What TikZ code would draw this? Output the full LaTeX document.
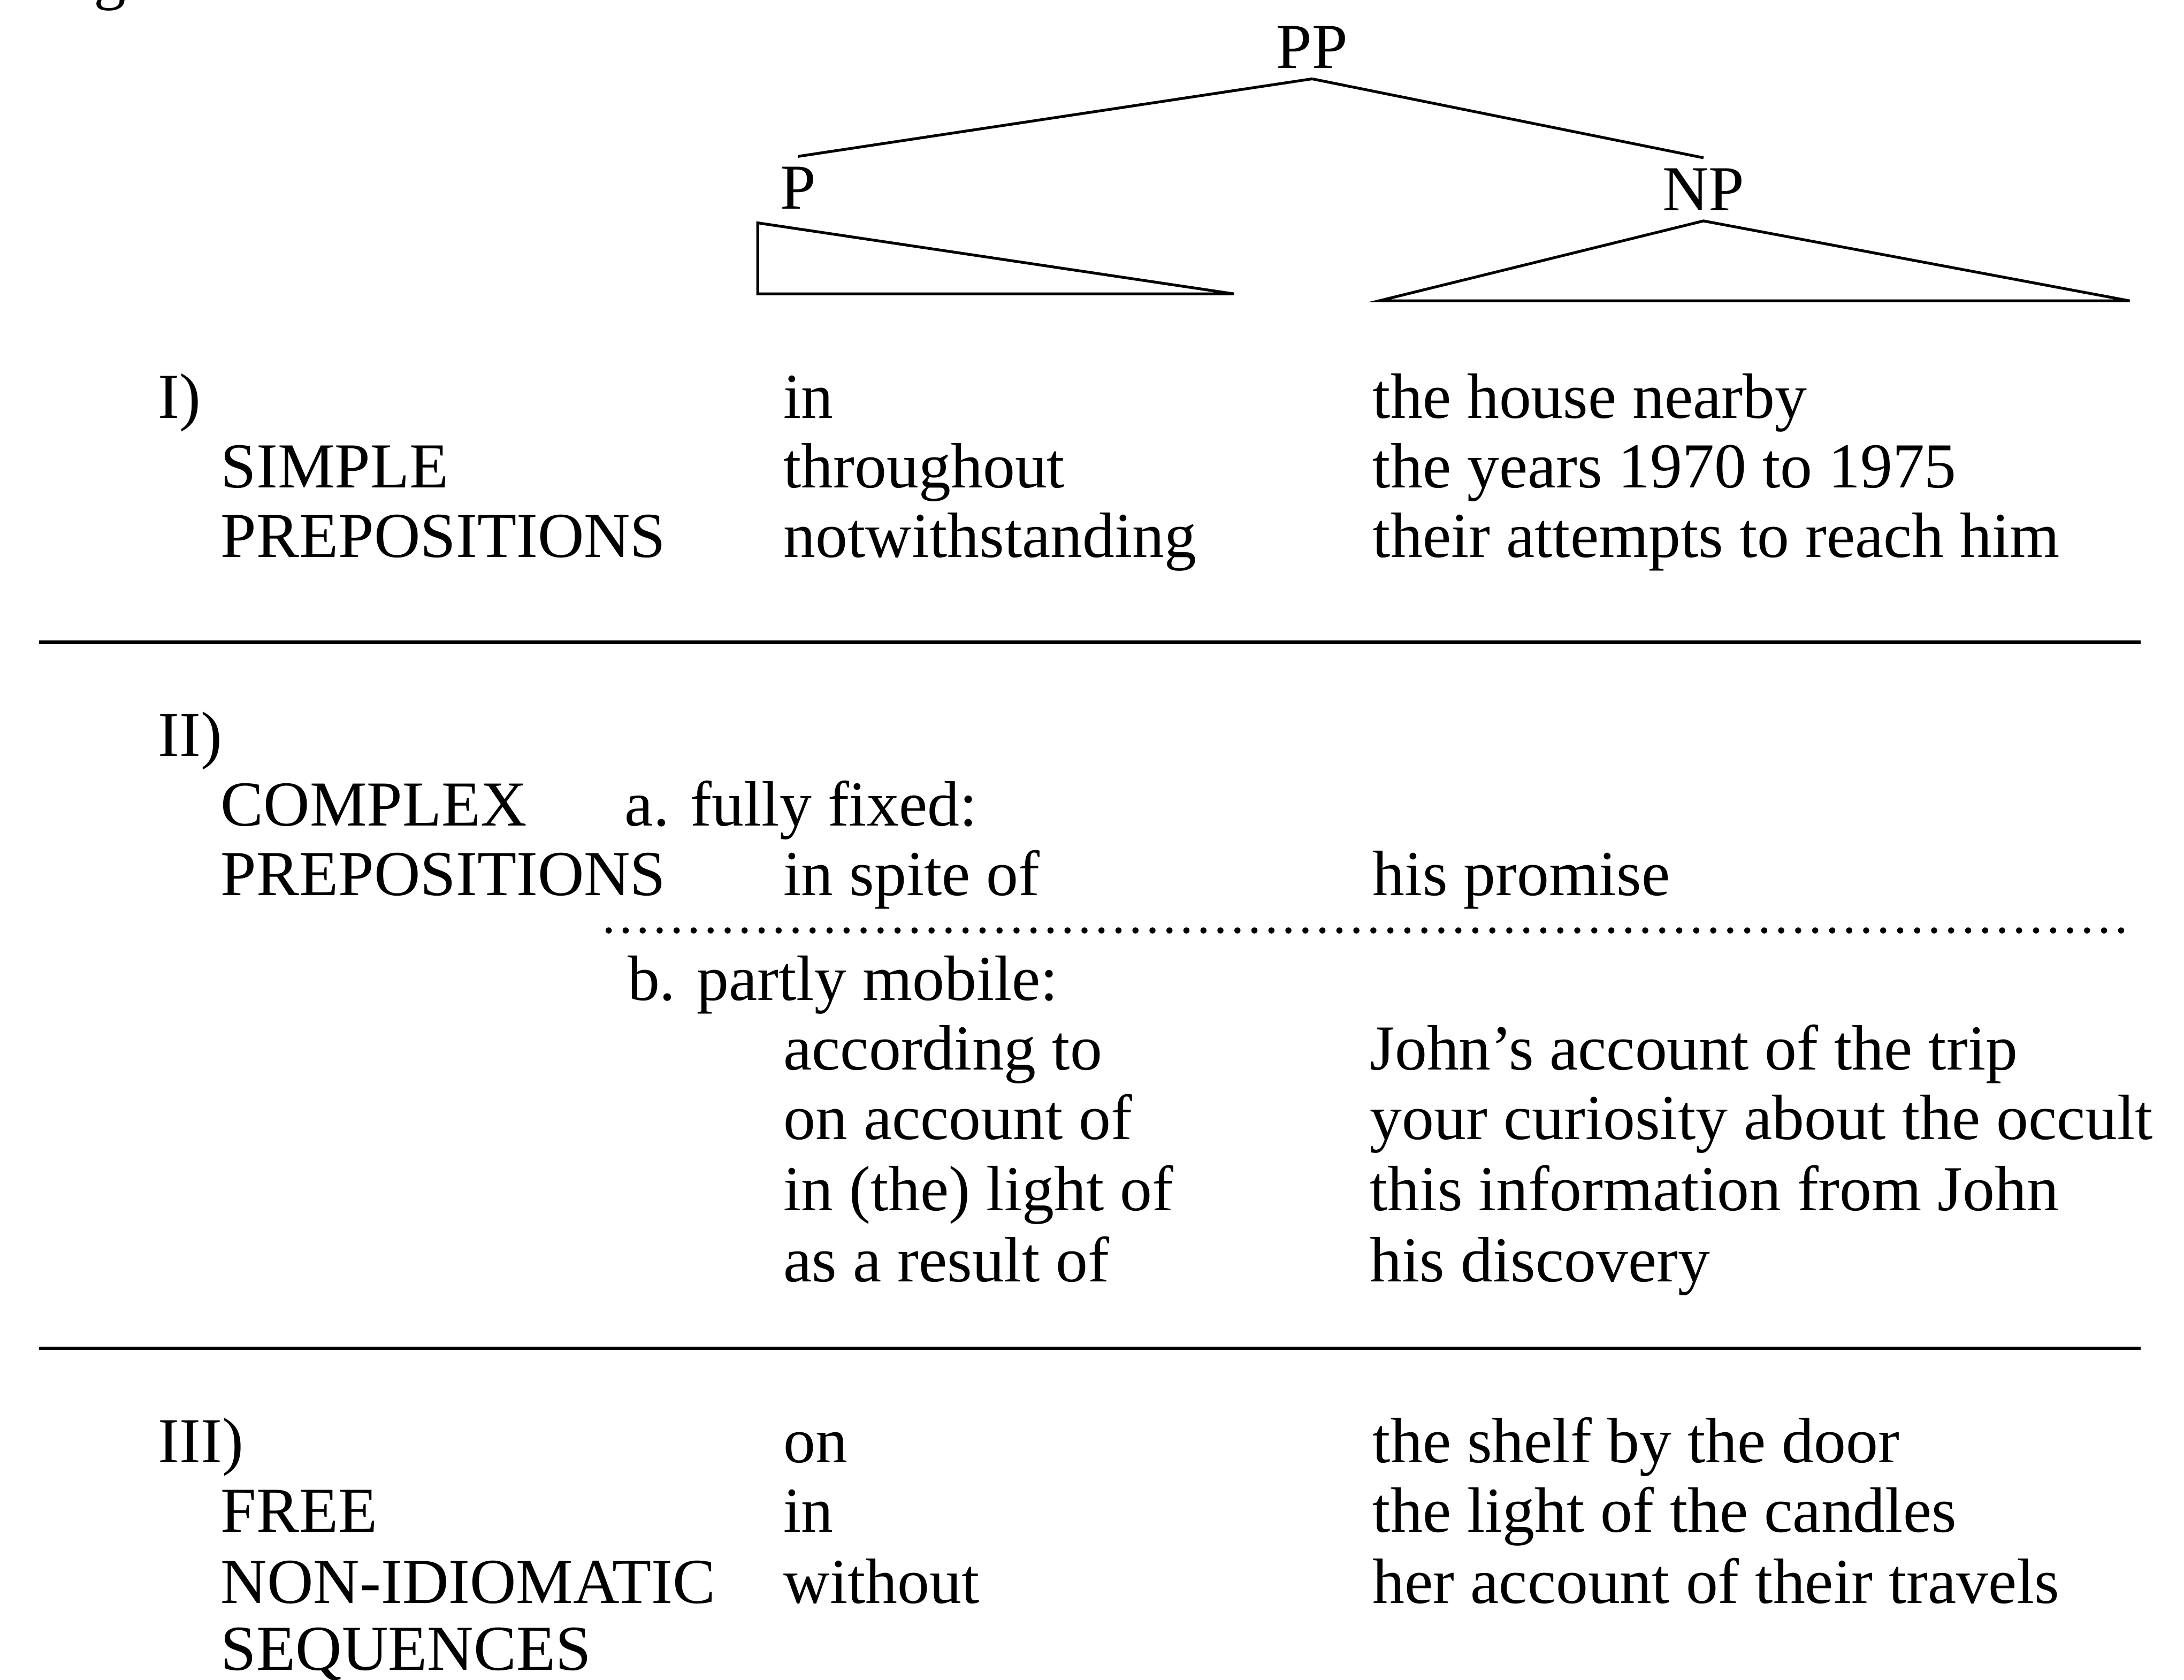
\documentclass[tikz,border=0pt]{standalone}
\usepackage{fontspec}
\setmainfont{Liberation Serif}
\usepackage{tikz}
\usetikzlibrary{positioning, calc}

\begin{document}
\begin{tikzpicture}[x=0.5pt,y=-0.5pt,-,semithick,
     every node/.style={font=\fontsize{23}{27}\selectfont, inner sep=0pt, anchor=base west},
     lbl/.style={anchor=base, inner sep=3.5pt},
     branch/.style={line width=1pt, line join=miter},
     rule/.style={line width=1.3pt},
     dotrule/.style={line width=2.2pt, line cap=round, dash pattern=on 0pt off 6.1pt}]

  \useasboundingbox (0,0) rectangle (1568,1206);

  \node (figg) at (67,-2) {g};

  % tree
  \node[lbl] (PP) at (942,49) {PP};
  \node[lbl] (P) at (573,150) {P};
  \node[lbl] (NP) at (1223,151) {NP};
  \draw[branch] (PP.south) -- (P.north);
  \draw[branch] (PP.south) -- (NP.north);
  \coordinate (ptop) at (544,160);
  \coordinate (pleft) at (544,211);
  \coordinate (pright) at (886,211);
  \draw[branch] (ptop) -- (pleft) -- (pright) -- cycle;
  \coordinate (npleft) at (990,216);
  \coordinate (npright) at (1529,216);
  \draw[branch] (npleft) -- (NP.south) -- (npright) -- cycle;

  % I)
  \node (numI) at (113,300) {I)};
  \node (simple) at (158,350) {SIMPLE};
  \node (prepsI) at (158,400) {PREPOSITIONS};
  \node (inI) at (562,300) {in};
  \node (throughout) at (562,350) {throughout};
  \node (notwith) at (562,400) {notwithstanding};
  \node (npIa) at (985,300) {the house nearby};
  \node (npIb) at (985,350) {the years 1970 to 1975};
  \node (npIc) at (985,400) {their attempts to reach him};

  \coordinate (ruleAl) at (28,461);
  \coordinate (ruleAr) at (1537,461);
  \draw[rule] (ruleAl) -- (ruleAr);

  % II)
  \node (numII) at (113,543) {II)};
  \node (complex) at (158,593) {COMPLEX};
  \node (fixed) at (448,593) {a. fully fixed:};
  \node (prepsII) at (158,643) {PREPOSITIONS};
  \node (spite) at (562,643) {in spite of};
  \node (npspite) at (985,643) {his promise};

  \coordinate (dotl) at (437,668);
  \coordinate (dotr) at (1527,668);
  \draw[dotrule] (dotl) -- (dotr);

  \node (mobile) at (450,718) {b. partly mobile:};
  \node (according) at (562,768) {according to};
  \node (onaccount) at (562,818) {on account of};
  \node (light) at (562,869) {in (the) light of};
  \node (result) at (562,920) {as a result of};
  \node (npacc) at (983,768) {John's account of the trip};
  \node (npcur) at (983,818) {your curiosity about the occult};
  \node (npinfo) at (983,869) {this information from John};
  \node (npdisc) at (983,920) {his discovery};

  \coordinate (ruleBl) at (28,968);
  \coordinate (ruleBr) at (1537,968);
  \draw[rule] (ruleBl) -- (ruleBr);

  % III)
  \node (numIII) at (113,1050) {III)};
  \node (free) at (158,1100) {FREE};
  \node (nonidiom) at (158,1151) {NON-IDIOMATIC};
  \node (sequences) at (158,1199) {SEQUENCES};
  \node (onIII) at (562,1050) {on};
  \node (inIII) at (562,1100) {in};
  \node (without) at (562,1151) {without};
  \node (npIIIa) at (985,1050) {the shelf by the door};
  \node (npIIIb) at (985,1100) {the light of the candles};
  \node (npIIIc) at (985,1151) {her account of their travels};
\end{tikzpicture}
\end{document}
